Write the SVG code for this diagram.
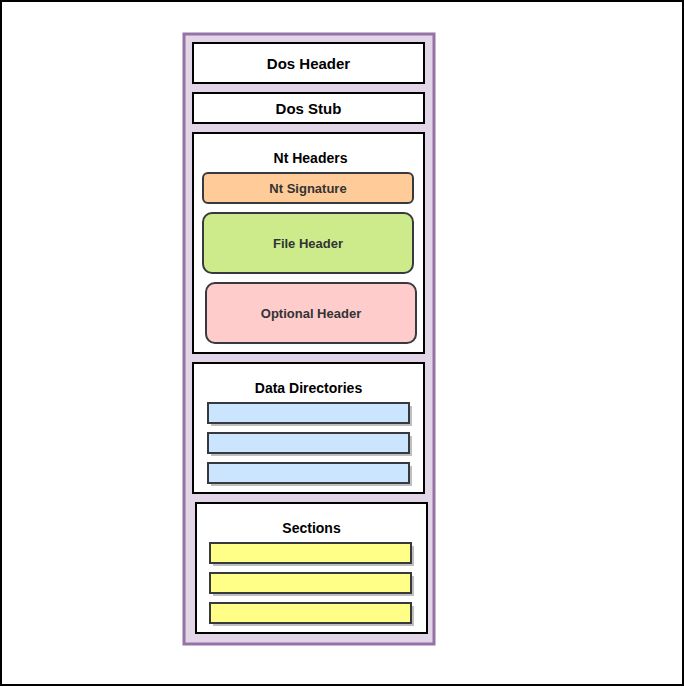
<svg xmlns="http://www.w3.org/2000/svg" width="684" height="687" viewBox="0 0 684 687">
<style>
text{font-family:"Liberation Sans",Arial,sans-serif;font-weight:bold;font-size:13px;text-anchor:middle;fill:#000}
text.big{font-size:15px}
text.mid{font-size:14px}
text.in{fill:#333}
.box{fill:#fff;stroke:#000;stroke-width:2}
.rnd{stroke:#36393d;stroke-width:2}
.bar{stroke:#36393d;stroke-width:2}
.sh{fill:#000;opacity:0.25}
</style>
<rect x="1" y="1" width="682" height="684" fill="#fff" stroke="#000" stroke-width="2"/>
<g id="pe">
<rect x="184" y="34" width="250" height="610" fill="#e1d5e7" stroke="#9673a6" stroke-width="3"/>
</g>
<g id="dos-header">
<rect class="box" x="193" y="43" width="231" height="40"/>
<text class="big" x="308.5" y="68.5">Dos Header</text>
</g>
<g id="dos-stub">
<rect class="box" x="193" y="93" width="231" height="30"/>
<text class="big" x="308.5" y="113.5">Dos Stub</text>
</g>
<g id="nt-headers">
<rect class="box" x="193" y="133" width="231" height="220"/>
<text class="mid" x="310.5" y="163">Nt Headers</text>
</g>
<g id="nt-signature">
<rect class="rnd" x="203" y="173" width="210" height="30" rx="5" fill="#ffcc99"/>
<text class="in" x="308" y="193">Nt Signature</text>
</g>
<g id="file-header">
<rect class="rnd" x="203" y="213" width="210" height="60" rx="9" fill="#cdeb8b"/>
<text class="in" x="308" y="248">File Header</text>
</g>
<g id="optional-header">
<rect class="rnd" x="206" y="283" width="210" height="60" rx="9" fill="#ffcccc"/>
<text class="in" x="311" y="318">Optional Header</text>
</g>
<g id="data-directories">
<rect class="box" x="193" y="363" width="231" height="130"/>
<text class="mid" x="308.5" y="393">Data Directories</text>
<rect class="sh" x="211" y="406" width="201" height="20"/>
<rect class="bar" x="208" y="403" width="201" height="20" fill="#cce5ff"/>
<rect class="sh" x="211" y="436" width="201" height="20"/>
<rect class="bar" x="208" y="433" width="201" height="20" fill="#cce5ff"/>
<rect class="sh" x="211" y="466" width="201" height="20"/>
<rect class="bar" x="208" y="463" width="201" height="20" fill="#cce5ff"/>
</g>
<g id="sections">
<rect class="box" x="196" y="503" width="231" height="130"/>
<text class="mid" x="311.5" y="533">Sections</text>
<rect class="sh" x="213" y="546" width="201" height="20"/>
<rect class="bar" x="210" y="543" width="201" height="20" fill="#ffff88"/>
<rect class="sh" x="213" y="576" width="201" height="20"/>
<rect class="bar" x="210" y="573" width="201" height="20" fill="#ffff88"/>
<rect class="sh" x="213" y="606" width="201" height="20"/>
<rect class="bar" x="210" y="603" width="201" height="20" fill="#ffff88"/>
</g>
<g id="connectors"/>
</svg>
